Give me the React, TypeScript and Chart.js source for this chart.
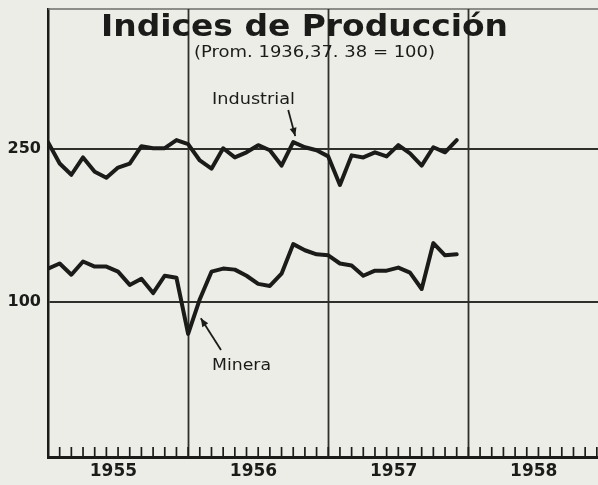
import { useEffect, useRef } from "react";
import { Chart, registerables } from "chart.js";

Chart.register(...registerables);

// ---- data (monthly, Jan 1955 .. Dec 1957) ----
const years = ["1955", "1956", "1957", "1958"];
const industrial = [
  257, 236, 225, 242, 228, 222, 232, 236, 253, 251, 251, 259,
  255, 239, 231, 251, 242, 247, 254, 249, 234, 257, 252, 249,
  243, 215, 244, 242, 247, 243, 254, 246, 234, 252, 247, 259,
];
const minera = [
  133, 138, 127, 140, 135, 135, 130, 117, 123, 109, 126, 124,
  69, 103, 130, 133, 132, 126, 118, 116, 128, 157, 151, 147,
  146, 138, 136, 126, 131, 131, 134, 129, 113, 158, 146, 147,
];
const yTicks = [100, 250];
const titleText = "Indices de Producción";
const subtitleText = "(Prom. 1936,37. 38 = 100)";
const industrialLabel = "Industrial";
const mineraLabel = "Minera";

const BG = "#ecede7";
const INK = "#1b1c19";
const GRID = "#2f302c";

function fitText(ctx: CanvasRenderingContext2D, text: string, x: number, y: number, w: number, font: string) {
  ctx.save();
  ctx.font = font;
  const m = ctx.measureText(text).width;
  ctx.translate(x, y);
  ctx.scale(w / m, 1);
  ctx.textAlign = "left";
  ctx.textBaseline = "alphabetic";
  ctx.fillText(text, 0, 0);
  ctx.restore();
}

function arrow(ctx: CanvasRenderingContext2D, x1: number, y1: number, x2: number, y2: number) {
  ctx.save();
  ctx.strokeStyle = INK;
  ctx.fillStyle = INK;
  ctx.lineWidth = 1.8;
  ctx.beginPath();
  ctx.moveTo(x1, y1);
  ctx.lineTo(x2, y2);
  ctx.stroke();
  const a = Math.atan2(y2 - y1, x2 - x1);
  const L = 9, W = 0.4;
  ctx.beginPath();
  ctx.moveTo(x2, y2);
  ctx.lineTo(x2 - L * Math.cos(a - W), y2 - L * Math.sin(a - W));
  ctx.lineTo(x2 - L * Math.cos(a + W), y2 - L * Math.sin(a + W));
  ctx.closePath();
  ctx.fill();
  ctx.restore();
}

export default function App() {
  const ref = useRef<HTMLCanvasElement>(null);
  useEffect(() => {
    document.body.style.margin = "0";
    document.body.style.background = BG;
    const canvas = ref.current!;
    const bgPlugin = {
      id: "bg",
      beforeDraw(chart: any) {
        const c = chart.ctx;
        c.save();
        c.fillStyle = BG;
        c.fillRect(0, 0, chart.width, chart.height);
        c.restore();
      },
    };
    const framePlugin = {
      id: "frame",
      beforeDatasetsDraw(chart: any) {
        const c = chart.ctx as CanvasRenderingContext2D;
        const xs = chart.scales.x;
        const { top, bottom, left, right } = chart.chartArea;
        c.save();
        // top border
        c.strokeStyle = "#6c6d68";
        c.lineWidth = 1.5;
        c.beginPath();
        c.moveTo(left, top);
        c.lineTo(right, top);
        c.stroke();
        // year lines
        c.strokeStyle = GRID;
        c.lineWidth = 1.8;
        for (let k = 1; k < years.length; k++) {
          const x = Math.round(xs.getPixelForValue(12 * k)) + 0.5;
          c.beginPath();
          c.moveTo(x, top);
          c.lineTo(x, bottom);
          c.stroke();
        }
        // month ticks
        c.strokeStyle = INK;
        c.lineWidth = 1.7;
        for (let i = 1; i < 12 * years.length; i++) {
          const x = xs.getPixelForValue(i);
          if (x > right) break;
          c.beginPath();
          c.moveTo(x, bottom);
          c.lineTo(x, bottom - 10);
          c.stroke();
        }
        c.restore();
      },
      afterDraw(chart: any) {
        const c = chart.ctx as CanvasRenderingContext2D;
        const xs = chart.scales.x;
        const ys = chart.scales.y;
        c.save();
        c.fillStyle = INK;
        fitText(c, titleText, 101, 36, 407, 'bold 31px "DejaVu Sans"');
        fitText(c, subtitleText, 194, 57, 241, '16px "DejaVu Sans"');
        fitText(c, industrialLabel, 212, 104, 83, '15px "DejaVu Sans"');
        fitText(c, mineraLabel, 212, 370, 59, '16px "DejaVu Sans"');
        // arrows
        const ix = xs.getPixelForValue(21);
        const iy = ys.getPixelForValue(industrial[21]);
        arrow(c, ix - 5, 110, ix + 2, iy - 6);
        const mx = xs.getPixelForValue(13);
        const my = ys.getPixelForValue(100);
        arrow(c, 221, 350, mx + 1, my + 16);
        c.restore();
      },
    };
    const toXY = (arr: number[]) => arr.map((v, i) => ({ x: i, y: v }));
    const chart = new Chart(canvas, {
      type: "line",
      data: {
        datasets: [
          {
            label: industrialLabel,
            data: toXY(industrial),
            borderColor: INK,
            borderWidth: 4,
            pointRadius: 0,
            tension: 0,
            borderJoinStyle: "round",
            borderCapStyle: "round",
          },
          {
            label: mineraLabel,
            data: toXY(minera),
            borderColor: INK,
            borderWidth: 4,
            pointRadius: 0,
            tension: 0,
            borderJoinStyle: "round",
            borderCapStyle: "round",
          },
        ],
      },
      options: {
        responsive: false,
        animation: false,
        devicePixelRatio: 1,
        layout: { autoPadding: false, padding: { top: 9, right: 0, left: 0, bottom: 0 } },
        plugins: { legend: { display: false }, tooltip: { enabled: false }, title: { display: false } },
        scales: {
          x: {
            type: "linear",
            min: 0,
            max: 47.1,
            afterBuildTicks: (s: any) => {
              s.ticks = years.map((_, k) => ({ value: 12 * k + 5.6 }));
            },
            afterFit: (s: any) => {
              s.height = 28;
              s.paddingLeft = 0;
              s.paddingRight = 0;
            },
            grid: { display: true, color: "rgba(0,0,0,0)", drawTicks: false },
            border: { display: true, color: INK, width: 3 },
            ticks: {
              autoSkip: false,
              maxRotation: 0,
              padding: 4,
              color: INK,
              font: { family: '"DejaVu Sans"', size: 17, weight: "bold" },
              callback: (v: any) => years[Math.floor(Number(v) / 12)] ?? "",
            },
          },
          y: {
            type: "linear",
            min: -51.7,
            max: 387.5,
            afterBuildTicks: (s: any) => {
              s.ticks = yTicks.map((v) => ({ value: v }));
            },
            afterFit: (s: any) => {
              s.width = 48;
              s.paddingTop = 0;
              s.paddingBottom = 0;
            },
            grid: { color: GRID, lineWidth: 2, drawTicks: false },
            border: { display: true, color: INK, width: 2.5 },
            ticks: {
              color: INK,
              padding: 7,
              font: { family: '"DejaVu Sans"', size: 16, weight: "bold" },
              callback: (v: any) => String(v),
            },
          },
        },
      },
      plugins: [bgPlugin, framePlugin],
    } as any);
    return () => chart.destroy();
  }, []);
  return (
    <div style={{ position: "fixed", left: 0, top: 0, width: 598, height: 485 }}>
      <canvas ref={ref} width={598} height={485} style={{ display: "block" }} />
    </div>
  );
}
